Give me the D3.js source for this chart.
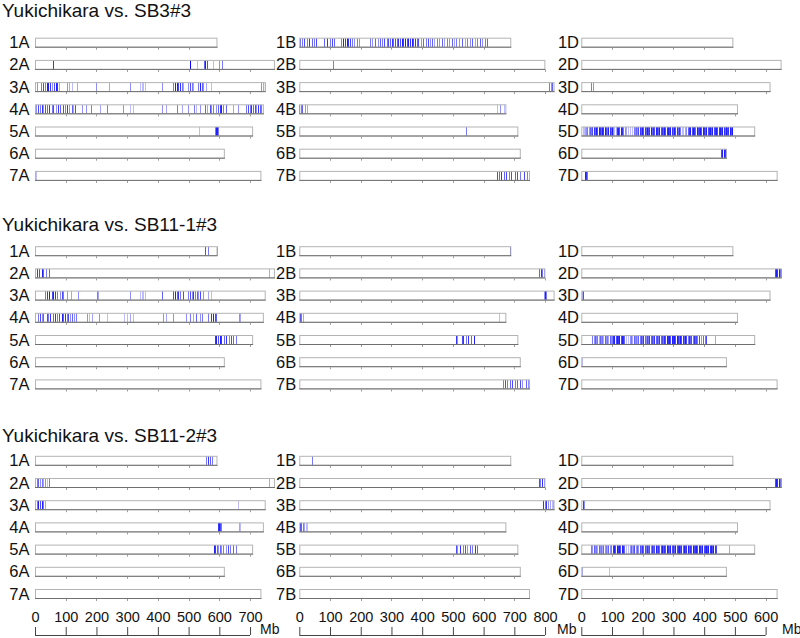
<!DOCTYPE html>
<html><head><meta charset="utf-8">
<script src="https://cdn.jsdelivr.net/npm/d3@7"></script>
<style>
body{margin:0;background:#fff}
svg{display:block}
text{font-family:"Liberation Sans",Arial,Helvetica,sans-serif;fill:#111}
</style>
</head><body>
<svg id="chart" width="800" height="638"></svg>
<script>
// ---------------- DATA ----------------
const genomes = ["A", "B", "D"];
const chromNumbers = [1, 2, 3, 4, 5, 6, 7];
const lengthsA = [594, 781, 751, 745, 710, 618, 737];
const lengthsB = [690, 801, 831, 674, 713, 721, 751];
const lengthsD = [495, 652, 616, 510, 566, 474, 639];
const panelTitles = ["Yukichikara vs. SB3#3", "Yukichikara vs. SB11-1#3", "Yukichikara vs. SB11-2#3"];
const axisTicksA = [0, 100, 200, 300, 400, 500, 600, 700];
const axisTicksB = [0, 100, 200, 300, 400, 500, 600, 700, 800];
const axisTicksD = [0, 100, 200, 300, 400, 500, 600];
const axisUnit = "Mb";

// polymorphism marks: [position Mb, intensity]
const marksSB3 = {
  "2A": [[57,.9],[503,1],[506,1],[526,.3],[550,.7],[554,1],[559,.8],[580,.3],[598,.5],[610,.6]],
  "3A": [[7.6,.5],[18.4,.6],[24.9,.8],[32.5,.6],[37.9,1],[43.4,1],[48.8,.9],[54.2,.5],[61.8,.8],[68.3,1],[72.6,.9],[79.1,.4],[103,.5],[111.7,.4],[119,.3],[137.6,.4],[200,.5],[241.7,.4],[309,.5],[341,.3],[347,.3],[352,.3],[357.7,.3],[412,.5],[450,.6],[455,1],[461,1],[466,.8],[471.5,.9],[477,.6],[482,.4],[499,.5],[504,.8],[509.6,.6],[515,.4],[531,.6],[536.6,1],[542,.7],[547,.5],[558,.4],[574.5,.3],[737,.5],[742,.4],[748,.3]],
  "4A": [[3.3,.5],[10.8,.8],[16.3,.6],[21.7,.9],[27.1,.5],[32.5,.8],[40.1,.7],[46.6,.9],[54.2,.6],[59.6,.8],[68.3,.5],[75.9,.9],[81.3,.7],[90,.8],[97.6,.6],[105.1,.9],[111.7,.5],[119.2,.7],[124.7,.4],[130.1,.8],[151.8,.5],[165.9,.5],[181,.6],[211.4,.4],[235.2,.6],[287,.5],[308.9,.3],[319.8,.3],[412,.5],[428,.4],[460.7,.6],[477,.4],[498.6,.5],[517,.6],[525.7,.3],[536.6,.5],[552.8,.7],[558.3,.4],[569,.8],[574.5,.5],[580,.6],[590.8,.5],[596.2,.7],[601.6,.9],[607,1],[612.5,.6],[623.3,.7],[645,.4],[661.2,.5],[688.4,.6],[693.8,.8],[699.2,.6],[704.6,.9],[710,.7],[715.4,.8],[720.8,.5],[726.3,.9],[731.7,.7],[737.1,.6]],
  "5A": [[533,.3],[586,.6],[590,1],[593,1],[596,.6]],
  "7A": [[3,.3]],
  "1B": [[2.3,.7],[9.8,.6],[16.4,.8],[24,.6],[31.5,.9],[40.2,.7],[48.9,.6],[53.2,.8],[81.4,.7],[89,.9],[99.8,.6],[107.4,.8],[113.9,.7],[135.6,.6],[143.2,1],[148.6,.9],[154,1],[159.4,.9],[164.9,.8],[170.3,.6],[179,.5],[186.5,.6],[194.1,.5],[229.9,.6],[237.5,.5],[246.2,.7],[254.8,.5],[262.4,.7],[270,.6],[276.5,.8],[284.1,.6],[289.5,.8],[295,.7],[300.4,.9],[305.8,.7],[311.2,.8],[316.6,.7],[322,.9],[327.5,.8],[332.9,1],[338.3,.9],[343.7,1],[349.1,.8],[354.6,1],[360,.9],[365.4,1],[370.8,.8],[376.2,.9],[381.7,.7],[387.1,.8],[395.8,.5],[403.3,.7],[410.9,.6],[419.6,.8],[425,.5],[430.4,.7],[439.1,.4],[446.7,.6],[454.3,.5],[463,.7],[471.6,.4],[479.2,.6],[486.8,.5],[495.5,.7],[504.2,.4],[511.7,.6],[519.3,.5],[528,.7],[538.8,.4],[547.5,.6],[555.1,.5],[562.7,.7],[571.4,.4],[580,.6],[587.6,.7],[595.2,.5],[603.9,.6],[612.6,.7]],
  "2B": [[110.6,.6]],
  "3B": [[813,.6],[818,.5],[824,.7]],
  "4B": [[0.5,.8],[5,.6],[10,.7],[17,.5],[24,.4],[645,.3],[652,.5],[666,.3]],
  "5B": [[544,.6]],
  "7B": [[644,.8],[650.5,.7],[658,.9],[665.7,.7],[674.3,.8],[683,.6],[690.6,.8],[701.4,.7],[709,.8],[719.9,.6],[730.7,.8],[741.5,.6]],
  "3D": [[32.4,.6],[37.8,.5]],
  "5D": [[4,.3],[8,.3],[12,.4],[16,.5],[20,.6],[24,.5],[28,.7],[32,.6],[36,.8],[40,.9],[44,.7],[48,1],[52,.8],[56,1],[60,.9],[64,.7],[68,1],[72,.9],[76,1],[80,.8],[84,.6],[88,1],[92,.9],[96,.7],[100,1],[104,.5],[108,.3],[112,.4],[116,.9],[120,1],[124,.8],[128,1],[132,.9],[136,.6],[142,.5],[147,.4],[152,.3],[158,.3],[164,.3],[170,.6],[174,.5],[178,.7],[182,.5],[186,.8],[190,.9],[194,.7],[198,1],[202,.8],[206,.9],[210,.7],[214,1],[218,.8],[222,.9],[226,1],[230,.7],[234,.9],[238,.8],[242,1],[246,.9],[250,.7],[254,1],[258,.8],[262,.9],[266,.7],[270,1],[274,.8],[278,.9],[282,1],[286,.8],[290,1],[294,.9],[298,.7],[302,1],[306,.8],[310,.9],[314,.7],[318,.9],[322,.6],[327,.3],[332,.3],[337,.4],[342,.5],[347,.7],[351,.9],[355,1],[359,.8],[363,1],[367,.9],[371,.7],[375,1],[379,.8],[383,.9],[387,1],[391,.8],[395,1],[399,.9],[403,.7],[407,1],[411,.8],[415,.9],[419,1],[423,.7],[427,1],[431,.8],[435,.9],[439,1],[443,.8],[447,.9],[451,1],[455,.8],[459,1],[463,.9],[467,.7],[471,1],[475,.8],[479,.9],[483,1],[487,.8],[491,1]],
  "6D": [[455,.8],[459,1],[463,1],[467,.9],[471,.7]],
  "7D": [[13,1],[16,.9],[19,.6]]
};
const marksSB11_1 = {
  "1A": [[555,.8],[564,.6],[591,.5]],
  "2A": [[1,1],[7.6,.9],[14,.8],[21.7,1],[27,.7],[35.8,.6],[46.6,.7],[762,.4]],
  "3A": [[32.5,.6],[38,.9],[46.6,1],[54.2,.8],[59.6,1],[65,.9],[72.6,.6],[81.3,.5],[86.7,.8],[92.2,.6],[105.2,.5],[116,.4],[141,.5],[202.7,.6],[206,.4],[309,.5],[341.5,.3],[347,.3],[352.3,.3],[357.7,.3],[414,.7],[449.9,.8],[455.3,1],[460.7,.7],[466.1,.9],[471.6,.6],[480.2,.8],[498.7,.6],[504.1,.8],[509.5,.5],[514.9,.9],[520.3,.6],[525.8,.7],[531.2,.5],[536.6,.8],[547.4,.5],[563.7,.4],[571.3,.3]],
  "4A": [[10.9,.6],[16.3,.8],[21.7,.5],[27.1,.7],[38,.8],[43.4,.6],[48.8,.9],[59.6,.7],[65,.9],[70.5,.6],[79.2,.8],[86.7,1],[92.2,.7],[97.6,.9],[103,.6],[108.4,.8],[113.8,.5],[119.3,.7],[126.8,.5],[133.4,.6],[170.2,.5],[176.7,.3],[184.3,.4],[209.2,.5],[235.2,.3],[289.4,.3],[298.1,.3],[309,.4],[317.6,.3],[415.2,.5],[426,.4],[447.7,.5],[491,.5],[504,.6],[514.9,.4],[523.6,.7],[536.6,.5],[542,.6],[563.7,.6],[574.5,.9],[580,1],[585.4,.8],[590.8,.7],[664.5,.5],[668.8,.4]],
  "5A": [[585.4,.9],[590.8,1],[596.2,.8],[601.6,1],[607,.9],[614.6,.7],[623.3,.9],[632,.6],[639.6,.8],[645,.7],[655.8,.6]],
  "1B": [[685,.8]],
  "2B": [[780.6,.7],[786,.9],[791.4,.6],[798,.5]],
  "3B": [[795.7,.5],[800,1],[804.4,.6]],
  "4B": [[1.2,.9],[5.5,.6],[11,.4],[650.5,.3]],
  "5B": [[508.5,.9],[514,.5],[528,.8],[533.4,.9],[542,.6],[549.7,.9],[557.3,.7],[568,1]],
  "7B": [[663.5,.6],[670,.8],[676.5,.6],[685.2,.7],[694,.8],[701.4,.6],[709,.7],[717.7,.8],[726.4,.5],[737.2,.7],[745.9,.5]],
  "2D": [[629.7,.8],[634,1],[638.4,.9],[642.7,1],[647,.8],[650.3,.6]],
  "3D": [[2,.4],[5.3,.8]],
  "5D": [[36,.6],[40,.5],[44,.7],[48,.5],[52,.6],[56,.4],[60,.7],[64,.5],[68,.6],[72,.4],[76,.7],[80,.5],[84,.6],[88,.4],[92,.7],[96,.5],[100,.6],[104,.9],[108,1],[112,.8],[116,1],[120,.9],[124,1],[128,.8],[132,1],[136,.9],[140,.7],[146,.3],[152,.3],[158,.5],[162,.6],[166,.4],[170,.7],[174,.5],[178,.6],[182,.4],[186,.7],[190,.6],[194,.8],[198,.6],[202,.9],[206,.7],[210,.5],[214,.8],[218,.6],[222,.9],[226,.7],[230,.8],[234,.6],[238,.9],[242,.7],[246,.8],[250,.6],[254,.9],[258,.7],[262,.8],[266,.6],[270,.9],[274,.8],[278,1],[282,.9],[286,1],[290,.8],[294,1],[298,.9],[302,1],[306,.8],[310,1],[314,.9],[318,.7],[322,1],[326,.8],[330,.9],[334,.7],[338,1],[342,.8],[346,.6],[350,.9],[354,.7],[358,.8],[362,.6],[366,.9],[370,.7],[374,.8],[378,.6],[384,.8],[390,.5],[396,.7],[402,.6],[406,.8],[436,.4]],
  "6D": [[3,.3]]
};
const marksSB11_2 = {
  "1A": [[556,.6],[563.7,.9],[569,.7],[576.7,.6]],
  "2A": [[1,.9],[5.4,.6],[10.9,.7],[16.3,.5],[21.7,.6],[27.1,.4],[32.5,.5],[38,.3],[46.6,.6],[762,.4]],
  "3A": [[5.4,.6],[10.9,1],[16.3,.8],[21.7,1],[27.1,.6],[32.5,.4],[661,.3]],
  "4A": [[596,.9],[599,1],[603,.8],[607,.6],[664.5,.4],[668.8,.3]],
  "5A": [[582,1],[586.5,.9],[591,.7],[596.2,.5],[601.6,.7],[607,.5],[612.5,.6],[621,.5],[628.7,.8],[636.3,.6],[645,.7],[653.7,.6]],
  "1B": [[40.2,.6]],
  "2B": [[779.5,.8],[785,.6],[791.5,.9],[797,.6]],
  "3B": [[793.6,.9],[799,.6],[804,.9],[810,.5],[815,.4],[821,.3],[826,.4]],
  "4B": [[1.2,.9],[5.5,.7],[11,.6],[16.4,.4],[21.8,.3],[26.1,.3]],
  "5B": [[508.5,.8],[514,.5],[522.6,.9],[531.3,.6],[538.8,.8],[546.4,.5],[555,.7],[563.8,.6],[571.4,.9],[579,.7]],
  "2D": [[629.7,.8],[634,1],[638.4,.9],[642.7,1],[647,.8],[650.3,.6]],
  "3D": [[5.3,.9],[8.6,.5]],
  "5D": [[32,.6],[36,.5],[40,.7],[44,.5],[48,.6],[52,.4],[56,.7],[60,.5],[64,.6],[68,.4],[72,.7],[76,.5],[80,.6],[84,.4],[88,.7],[92,.5],[97,.6],[103,.9],[107,1],[111,.8],[115,1],[119,.9],[123,1],[127,.8],[131,1],[135,.9],[139,.7],[145,.3],[151,.3],[157,.5],[161,.7],[165,.4],[169,.6],[173,.8],[177,.5],[181,.7],[185,.5],[190,.8],[194,.6],[198,.9],[202,.7],[206,.8],[210,.6],[214,.9],[218,.7],[222,.8],[226,.6],[230,.9],[234,.7],[238,.8],[242,1],[246,.7],[250,.9],[254,.7],[258,.8],[262,1],[266,.7],[270,.9],[274,.8],[278,1],[282,.9],[286,.7],[290,1],[294,.8],[298,.9],[302,.7],[306,1],[310,.8],[314,.9],[318,1],[322,.8],[326,.9],[330,.7],[334,1],[338,.8],[342,.9],[346,1],[350,.7],[354,.9],[358,.8],[362,1],[366,.8],[370,.9],[374,1],[378,.8],[382,1],[386,.9],[390,.7],[394,1],[398,.8],[402,.9],[406,1],[410,.8],[414,1],[418,.9],[422,1],[426,.8],[430,1],[434,.9],[438,.8],[482,.4]],
  "6D": [[2,.4],[88.8,.3]]
};

// ---------------- LAYOUT ----------------
const lengthsByGenome = {A: lengthsA, B: lengthsB, D: lengthsD};
const ticksByGenome = {A: axisTicksA, B: axisTicksB, D: axisTicksD};
const panels = [marksSB3, marksSB11_1, marksSB11_2];
const colX0 = {A: 35, B: 299.3, D: 581.3};
const labelRight = {A: 29.5, B: 296.3, D: 579};
const unitX = {A: 260, B: 557, D: 782};
const pxPerMb = 0.3072;
const panelTop = [37.7, 246.2, 455.8];
const titleBase = [17, 230.5, 441.5];
const rowStep = 22.2;
const barH = 10;
const axisY = 635;

const svg = d3.select("#chart");
const scales = {};
genomes.forEach(g => {
  scales[g] = d3.scaleLinear().domain([0, 1000]).range([colX0[g], colX0[g] + 1000 * pxPerMb]);
});

panels.forEach((marks, p) => {
  const pg = svg.append("g");
  pg.append("text").attr("x", 2).attr("y", titleBase[p])
    .style("font-size", "19px").text(panelTitles[p]);

  genomes.forEach(g => {
    const x = scales[g];
    chromNumbers.forEach((n, i) => {
      const name = n + g;
      const len = lengthsByGenome[g][i];
      const y0 = panelTop[p] + i * rowStep;
      const cg = pg.append("g");
      cg.append("text").attr("x", labelRight[g]).attr("y", y0 + barH + 0.5)
        .attr("text-anchor", "end").style("font-size", "16.5px").text(name);
      // bar body
      cg.append("rect").attr("x", x(0)).attr("y", y0).attr("width", x(len) - x(0)).attr("height", barH)
        .attr("fill", "#fff");
      // marks
      const m = marks[name] || [];
      cg.selectAll("line.mk").data(m).enter().append("line").attr("class", "mk")
        .attr("x1", d => Math.round(x(d[0])) + 0.5).attr("x2", d => Math.round(x(d[0])) + 0.5)
        .attr("y1", y0 + 0.5).attr("y2", y0 + barH - 0.5)
        .attr("stroke", "#0000ff").attr("stroke-width", 1).attr("stroke-opacity", d => d[1] * 0.88);
      // outline
      cg.append("rect").attr("x", x(0) + 0.5).attr("y", y0 + 0.5).attr("width", x(len) - x(0) - 1).attr("height", barH - 1)
        .attr("fill", "none").attr("stroke", "#b4b4b4").attr("stroke-width", 1);
      cg.append("line").attr("x1", x(0)).attr("x2", x(len)).attr("y1", y0 + barH - 0.5).attr("y2", y0 + barH - 0.5)
        .attr("stroke", "#707070").attr("stroke-width", 1);
      // small scale ticks under each bar every 100 Mb
      const tv = ticksByGenome[g].filter(t => t > 0 && t < len);
      cg.selectAll("line.tk").data(tv).enter().append("line").attr("class", "tk")
        .attr("x1", d => Math.round(x(d)) + 0.5).attr("x2", d => Math.round(x(d)) + 0.5)
        .attr("y1", y0 + barH).attr("y2", y0 + barH + 2)
        .attr("stroke", "#999").attr("stroke-width", 1);
    });
  });
});

// bottom axes
genomes.forEach(g => {
  const tv = ticksByGenome[g];
  const axis = d3.axisTop(scales[g]).tickValues(tv).tickSize(8).tickSizeOuter(0).tickPadding(5).tickFormat(d3.format("d"));
  const ag = svg.append("g").attr("transform", `translate(0,${axisY})`).call(axis);
  ag.select(".domain").attr("d", `M${scales[g](0)},0.5H${scales[g](tv[tv.length - 1])}`).attr("stroke", "#444");
  ag.selectAll(".tick line").attr("stroke", "#444");
  ag.selectAll(".tick text").style("font-size", "14.5px").style("font-family", '"Liberation Sans",Arial,sans-serif').attr("fill", "#222");
  svg.append("text").attr("x", unitX[g]).attr("y", 634).style("font-size", "14px").text(axisUnit);
});
</script>
</body></html>
